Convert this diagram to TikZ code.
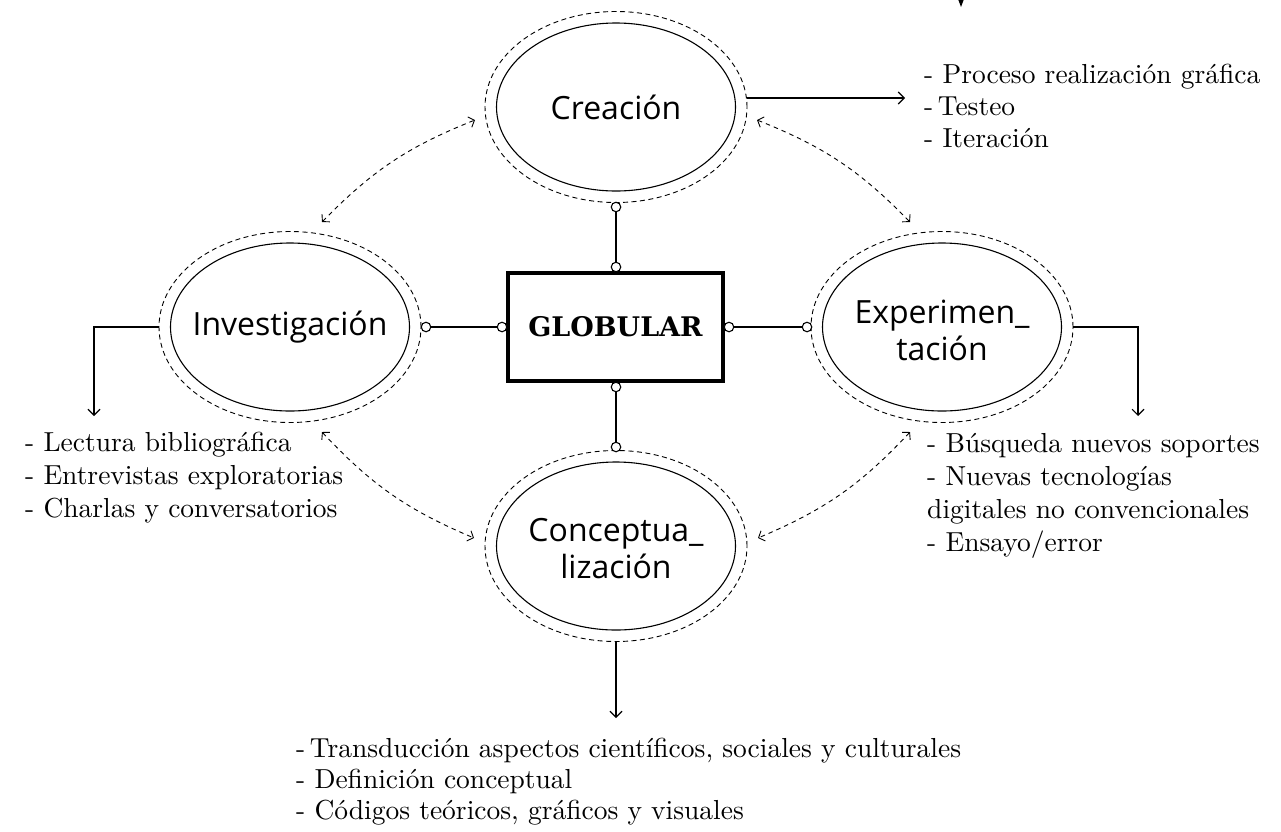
\documentclass[tikz,border=0pt]{standalone}
\usepackage{fontspec}
\newfontfamily\labelfont{Open Sans}
\newfontfamily\titlefont{DejaVu Serif}
\newfontfamily\listfont{lmroman10-regular}[Extension=.otf]
\usetikzlibrary{shapes.geometric,arrows.meta}
\begin{document}
\begin{tikzpicture}[x=1pt,y=-1pt,
  innerell/.style={ellipse,draw,line width=1.1pt,minimum width=239pt,minimum height=168pt,inner sep=0pt},
  label/.style={align=center,inner sep=0pt,font=\labelfont\fontsize{32}{37}\selectfont},
  outer/.style={ellipse,draw,dash pattern=on 5pt off 3.5pt,line width=0.9pt,minimum width=262pt,minimum height=191pt,inner sep=0pt},
  dot/.style={circle,draw,fill=white,line width=1.1pt,minimum size=9.5pt,inner sep=0pt},
  link/.style={line width=1.1pt},
  outarrow/.style={line width=1.1pt,-{Straight Barb[length=6pt,width=12pt]}},
  rel/.style={dash pattern=on 4.5pt off 4pt,line width=0.9pt,{Straight Barb[length=5pt,width=11pt]}-{Straight Barb[length=5pt,width=11pt]}},
  item/.style={anchor=base west,inner sep=0pt,font=\listfont\fontsize{27.5}{32}\selectfont}
]
\useasboundingbox (0,0) rectangle (1281,831);

% ellipses
\node[outer] (cre-o) at (616,107) {};
\node[innerell] (cre-e) at (616,107) {};
\node[label] (cre) at (616,107) {Creación};
\node[outer] (inv-o) at (290,327) {};
\node[innerell] (inv-e) at (290,327) {};
\node[label] (inv) at (290,327) {Investigación};
\node[outer] (exp-o) at (942,327) {};
\node[innerell] (exp-e) at (942,327) {};
\node[label] (exp) at (942,330) {Experimen\_\\tación};
\node[outer] (con-o) at (616,546) {};
\node[innerell] (con-e) at (616,546) {};
\node[label] (con) at (616,549) {Conceptua\_\\lización};

% central box
\node[draw,line width=4.5pt,minimum width=215pt,minimum height=108pt,inner sep=0pt,font=\titlefont\bfseries\fontsize{27}{32}\selectfont] (glob) at (615.5,327) {GLOBULAR};

% dots and links
\node[dot] (d1) at (616,207) {};
\node[dot] (d2) at (616,267) {};
\node[dot] (d3) at (616,387) {};
\node[dot] (d4) at (616,447) {};
\node[dot] (d5) at (426,327) {};
\node[dot] (d6) at (502,327) {};
\node[dot] (d7) at (729,327) {};
\node[dot] (d8) at (807,327) {};
\draw[link] (d1) -- (d2);
\draw[link] (d3) -- (d4);
\draw[link] (d5) -- (d6);
\draw[link] (d7) -- (d8);

% output arrows
\coordinate (cre-end) at (905,98);
\coordinate (inv-end) at (94,416);
\coordinate (exp-end) at (1138,416);
\coordinate (con-end) at (616,718);
\draw[outarrow] (cre-o.east |- cre-end) -- (cre-end);
\draw[outarrow] (inv-o.west) -| (inv-end);
\draw[outarrow] (exp-o.east) -| (exp-end);
\draw[outarrow] (con-o.south) -- (con-end);

% relation arcs
\coordinate (r1a) at (322,222);
\coordinate (r1b) at (475,120);
\coordinate (r2a) at (757,120);
\coordinate (r2b) at (910,222);
\coordinate (r3a) at (322,432);
\coordinate (r3b) at (474,538);
\coordinate (r4a) at (910,432);
\coordinate (r4b) at (758,538);
\draw[rel] (r1a) to[bend left=12] (r1b);
\draw[rel] (r2a) to[bend left=12] (r2b);
\draw[rel] (r3a) to[bend right=12] (r3b);
\draw[rel] (r4a) to[bend left=12] (r4b);

% stray arrowhead at top
\fill (958,-1) -- (964,-1) -- (961,7) -- cycle;

% lists
\node[item] (c1) at (924,83) {- Proceso realización gráfica};
\node[item] (c2) at (924,115) {-\,Testeo};
\node[item] (c3) at (924,147) {- Iteración};
\node[item] (i1) at (25,451) {- Lectura bibliográfica};
\node[item] (i2) at (25,484) {- Entrevistas exploratorias};
\node[item] (i3) at (25,517) {- Charlas y conversatorios};
\node[item] (e1) at (927,452) {- Búsqueda nuevos soportes};
\node[item] (e2) at (927,485) {- Nuevas tecnologías};
\node[item] (e3) at (927,518) {digitales no convencionales};
\node[item] (e4) at (927,551) {- Ensayo/error};
\node[item] (k1) at (296,757) {-\,Transducción aspectos científicos, sociales y culturales};
\node[item] (k2) at (296,788) {- Definición conceptual};
\node[item] (k3) at (296,819) {- Códigos teóricos, gráficos y visuales};
\end{tikzpicture}
\end{document}
